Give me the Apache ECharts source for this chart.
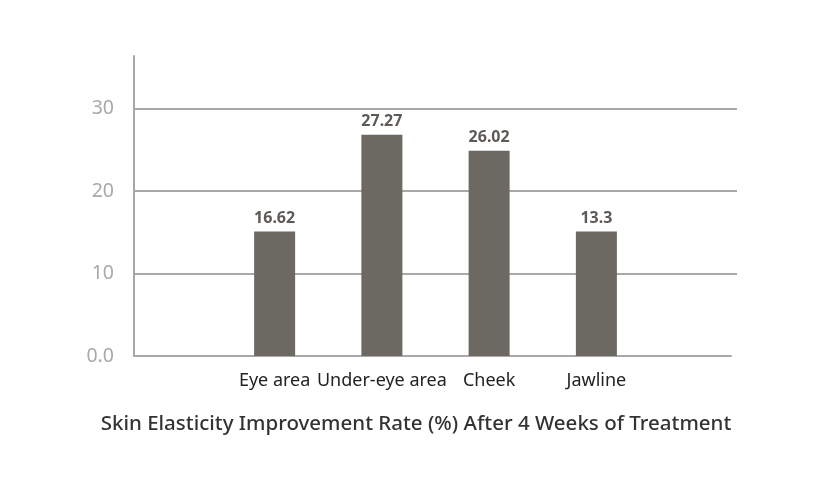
<!DOCTYPE html>
<html>
<head>
<meta charset="utf-8">
<script src="https://cdn.jsdelivr.net/npm/echarts@6/dist/echarts.min.js"></script>
<style>html,body{margin:0;padding:0;background:#fff}#c{width:823px;height:490px}</style>
</head>
<body>
<div id="c"></div>
<script>
const categories = ['Eye area', 'Under-eye area', 'Cheek', 'Jawline'];
const barHeights = [15.1, 26.85, 24.9, 15.1];
const labelValues = ['16.62', '27.27', '26.02', '13.3'];
const yTicks = [0, 10, 20, 30];
const titleText = 'Skin Elasticity Improvement Rate (%) After 4 Weeks of Treatment';

const FONT = "'Noto Sans', sans-serif";
const YMAX = 36.4;
const gridTop = 56, gridBottom = 134;

const chart = echarts.init(document.getElementById('c'));
chart.setOption({
  backgroundColor: '#fff',
  animation: false,
  title: {
    text: titleText,
    left: 411, top: 409, textAlign: 'center',
    textStyle: { fontFamily: FONT, fontSize: 20.5, fontWeight: 500, color: '#333' }
  },
  grid: [
    { left: 134, right: 86, top: gridTop, bottom: gridBottom },
    { left: 221, width: 429, top: gridTop, bottom: gridBottom },
    { left: 134, right: 92, top: gridTop, bottom: gridBottom }
  ],
  xAxis: [
    { gridIndex: 0, type: 'value', show: false },
    { gridIndex: 1, type: 'category', data: categories,
      axisLine: { show: false }, axisTick: { show: false },
      axisLabel: { fontFamily: FONT, fontSize: 18, color: '#222', margin: 16, interval: 0 } },
    { gridIndex: 2, type: 'value', axisLabel: { show: false }, axisTick: { show: false },
      splitLine: { show: false },
      axisLine: { show: true, lineStyle: { color: '#a8a8a8', width: 2 } } }
  ],
  yAxis: [
    { gridIndex: 0, type: 'value', min: 0, max: YMAX, interval: 10,
      axisLine: { show: true, lineStyle: { color: '#a8a8a8', width: 2 } },
      axisTick: { show: false },
      axisLabel: { fontFamily: FONT, fontSize: 19.5, color: '#a9a9a9', margin: 20,
        formatter: v => yTicks.indexOf(v) < 0 ? '' : (v === 0 ? '0.0' : String(v)) },
      splitLine: { show: true, showMinLine: false, showMaxLine: false,
        lineStyle: { color: '#a8a8a8', width: 2 } } },
    { gridIndex: 1, type: 'value', min: 0, max: YMAX, show: false },
    { gridIndex: 2, type: 'value', min: 0, max: YMAX, show: false }
  ],
  series: [{
    type: 'bar', xAxisIndex: 1, yAxisIndex: 1,
    data: barHeights, barWidth: 41,
    itemStyle: { color: '#6c6962' },
    label: { show: true, position: 'top', distance: 5,
      fontFamily: FONT, fontSize: 16, fontWeight: 'bold', color: '#5e5a55',
      formatter: p => labelValues[p.dataIndex] }
  }]
});
</script>
</body>
</html>
